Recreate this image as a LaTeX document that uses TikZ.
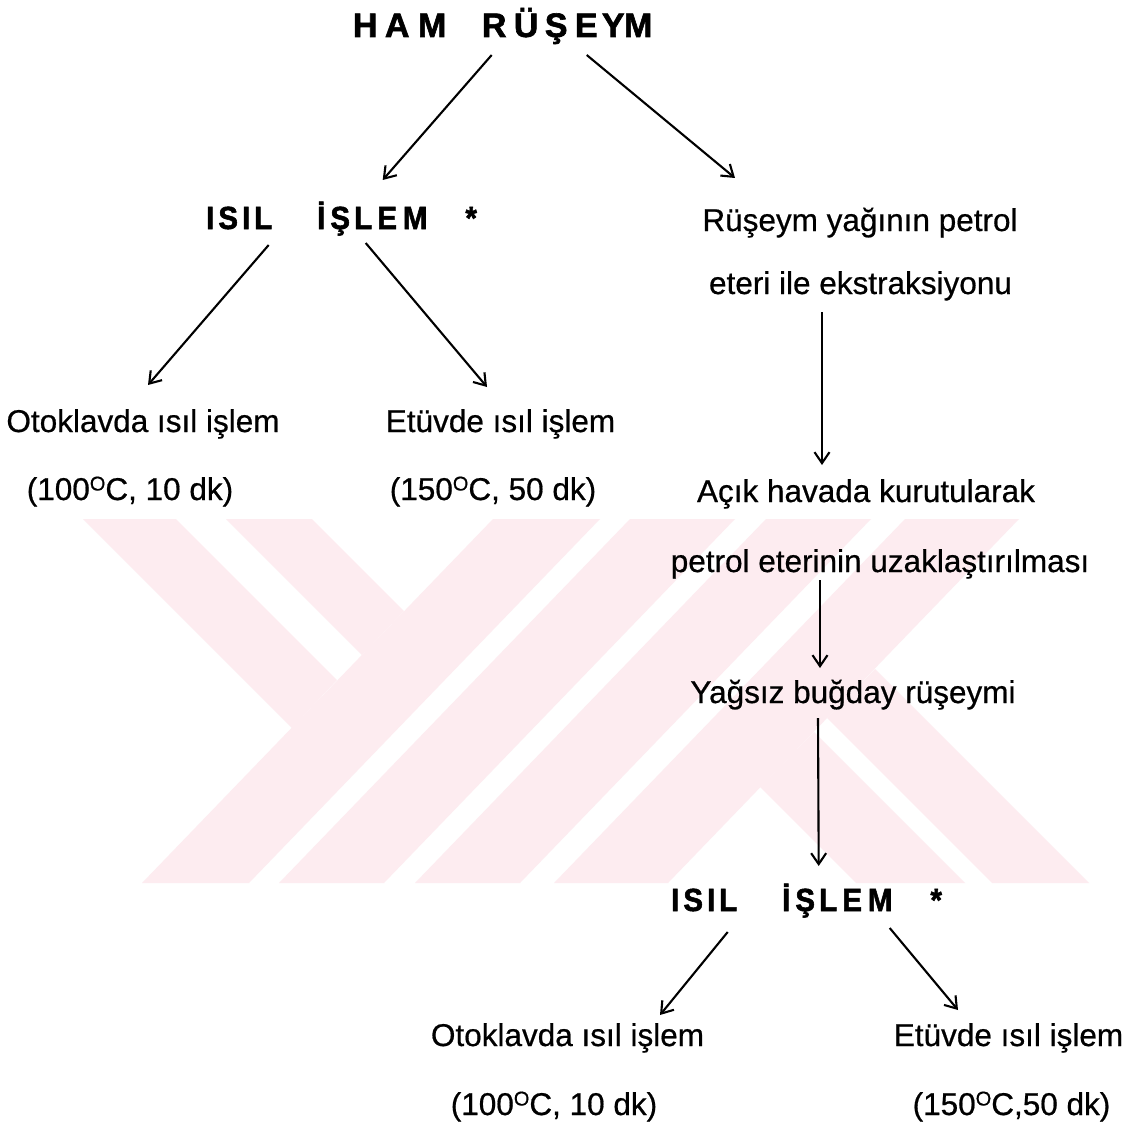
\documentclass[tikz,border=0pt]{standalone}
\usepackage{fontspec}
\usepackage{graphicx}
\setmainfont{Liberation Sans}[UprightFeatures={FakeBold=0.6}]
\newfontfamily\hdfont{Liberation Sans Bold}[FakeBold=1.8]
\usetikzlibrary{arrows.meta}
\definecolor{wm}{RGB}{253,236,240}
\newcommand{\hlA}[2]{\makebox[0pt]{\scalebox{1.0}[1]{#1}}\hspace{#2pt}}
\newcommand{\hlB}[2]{\makebox[0pt]{\scalebox{0.92}[1]{#1}}\hspace{#2pt}}
\newcommand{\degO}{\raisebox{9.5pt}{\fontsize{20}{20}\selectfont O}}
\begin{document}
\begin{tikzpicture}[x=1pt,y=-1pt,
  txt/.style={anchor=base,inner sep=0pt,font=\fontsize{31.5}{38}\selectfont},
  hdA/.style={anchor=base west,inner sep=0pt,font=\hdfont\fontsize{34}{40}\selectfont},
  hdB/.style={anchor=base west,inner sep=0pt,font=\hdfont\fontsize{32}{38}\selectfont},
  arr/.style={line width=2.1pt,-{Straight Barb[length=11pt,width=15pt,line width=2.1pt]}},
  wmark/.style={fill=wm}]
\fill[white] (0,0) rectangle (1126,1126);
\useasboundingbox (0,0) rectangle (1126,1126);
% watermark
\begin{scope}
\clip (0,519) rectangle (1126,883);
\fill[wmark] (493,519) -- (600,519) -- (249,883) -- (142,883) -- cycle;
\fill[wmark] (630,519) -- (735,519) -- (384,883) -- (279,883) -- cycle;
\fill[wmark] (766,519) -- (871,519) -- (520,883) -- (415,883) -- cycle;
\fill[wmark] (905,519) -- (1019,519) -- (668,883) -- (554,883) -- cycle;
\fill[wmark] (83,519) -- (176,519) -- (337,680) -- (292,728) -- cycle;
\fill[wmark] (226,519) -- (312,519) -- (404,611) -- (362,655) -- cycle;
\fill[wmark] (760,787) -- (814,732) -- (965,883) -- (856,883) -- cycle;
\fill[wmark] (827,718) -- (875,669) -- (1089,883) -- (992,883) -- cycle;
\end{scope}
% nodes
\node[hdA] (ham) at (365,37) {\hlA{H}{32}\hlA{A}{35}\hlA{M}{62}\hlA{R}{32}\hlA{Ü}{30}\hlA{Ş}{30}\hlA{E}{27}\hlA{Y}{25}\hlA{M}{0}};
\node[hdB] (isil1) at (210,229) {\hlB{I}{18}\hlB{S}{18}\hlB{I}{17}\hlB{L}{58}\hlB{İ}{19}\hlB{Ş}{23}\hlB{L}{24}\hlB{E}{28}\hlB{M}{56}\hlB{*}{0}};
\node[txt] (otoL) at (143,432) {Otoklavda ısıl işlem};
\node[txt] (degL1) at (130,500) {(100\degO C, 10 dk)};
\node[txt] (etuL) at (500.5,432) {Etüvde ısıl işlem};
\node[txt] (degL2) at (493,500) {(150\degO C, 50 dk)};
\node[txt] (rus) at (860,231) {Rüşeym yağının petrol};
\node[txt] (eteri) at (860.5,294) {eteri ile ekstraksiyonu};
\node[txt] (acik) at (866,502) {Açık havada kurutularak};
\node[txt] (petrol) at (880,572) {petrol eterinin uzaklaştırılması};
\node[txt] (yagsiz) at (853,703) {Yağsız buğday rüşeymi};
\node[hdB] (isil2) at (675,911) {\hlB{I}{18}\hlB{S}{18}\hlB{I}{17}\hlB{L}{58}\hlB{İ}{19}\hlB{Ş}{23}\hlB{L}{24}\hlB{E}{28}\hlB{M}{56}\hlB{*}{0}};
\node[txt] (otoB) at (567.5,1046) {Otoklavda ısıl işlem};
\node[txt] (etuB) at (1008.5,1046) {Etüvde ısıl işlem};
\node[txt] (degB1) at (554,1115) {(100\degO C, 10 dk)};
\node[txt] (degB2) at (1011.5,1115) {(150\degO C,50 dk)};
% connectors
\draw[arr] ([shift={(-10,18)}]ham.base) -- ([shift={(42,-49)}]isil1.base);
\draw[arr] ([shift={(85,18)}]ham.base) -- ([shift={(-125,-53)}]rus.base);
\draw[arr] ([shift={(-72,16)}]isil1.base) -- ([shift={(5,-47)}]otoL.base);
\draw[arr] ([shift={(25,14)}]isil1.base) -- ([shift={(-13.5,-45)}]etuL.base);
\draw[arr] ([shift={(-38.5,18)}]eteri.base) -- ([shift={(-44,-37)}]acik.base);
\draw[arr] ([shift={(-60,8)}]petrol.base) -- ([shift={(-33,-35)}]yagsiz.base);
\draw[arr] ([shift={(-35,15)}]yagsiz.base) -- ([shift={(13,-45)}]isil2.base);
\draw[arr] ([shift={(-78,21)}]isil2.base) -- ([shift={(92.5,-31)}]otoB.base);
\draw[arr] ([shift={(84,17)}]isil2.base) -- ([shift={(-50.5,-36)}]etuB.base);
\end{tikzpicture}
\end{document}
